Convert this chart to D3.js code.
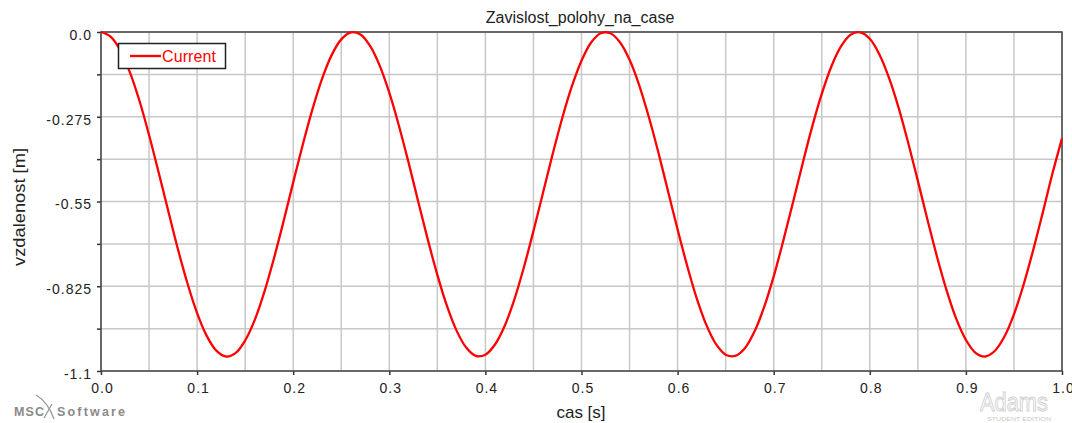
<!DOCTYPE html>
<html>
<head>
<meta charset="utf-8">
<title>Zavislost_polohy_na_case</title>
<style type="text/css">
	body { margin: 0px; background-color: #fff; }
	text { font-family: "Liberation Sans", Arial, sans-serif; }
</style>
<script src="https://cdn.jsdelivr.net/npm/d3@7/dist/d3.min.js"></script>
</head>
<body>
<script type="text/javascript">
// values, one sample every 0.01 s
var times = d3.range(0, 101).map(function(i) { return i / 100; });
var position = [
	0.000, -0.015, -0.059, -0.130, -0.223, -0.334, -0.456, -0.581, -0.704, -0.816,
	-0.912, -0.986, -1.034, -1.053, -1.042, -1.001, -0.934, -0.843, -0.734, -0.614,
	-0.488, -0.365, -0.251, -0.152, -0.075, -0.024, -0.001, -0.008, -0.045, -0.109,
	-0.197, -0.304, -0.423, -0.549, -0.673, -0.788, -0.889, -0.969, -1.024, -1.051,
	-1.047, -1.014, -0.954, -0.869, -0.764, -0.646, -0.521, -0.396, -0.279, -0.176,
	-0.093, -0.034, -0.004, -0.004, -0.033, -0.090, -0.172, -0.275, -0.391, -0.516,
	-0.641, -0.759, -0.865, -0.951, -1.013, -1.047, -1.051, -1.026, -0.972, -0.893,
	-0.793, -0.677, -0.554, -0.428, -0.308, -0.201, -0.112, -0.047, -0.009, -0.001,
	-0.022, -0.073, -0.149, -0.246, -0.360, -0.483, -0.609, -0.730, -0.839, -0.931,
	-0.999, -1.041, -1.053, -1.035, -0.989, -0.916, -0.820, -0.708, -0.586, -0.460,
	-0.345
];
var xTicks = [0.0, 0.1, 0.2, 0.3, 0.4, 0.5, 0.6, 0.7, 0.8, 0.9, 1.0];
var xGrid = d3.range(0, 21).map(function(i) { return i * 0.05; });
var yGrid = d3.range(0, 9).map(function(i) { return -i * 0.1375; });
var yTickLabels = ["0.0", "-0.275", "-0.55", "-0.825", "-1.1"];
var xTickLabels = ["0.0", "0.1", "0.2", "0.3", "0.4", "0.5", "0.6", "0.7", "0.8", "0.9", "1.0"];

var width = 1072, height = 423;
var plotLeft = 101, plotRight = 1062, plotTop = 32, plotBottom = 371;

var svg = d3.select("body").append("svg")
	.attr("width", width)
	.attr("height", height);

var x = d3.scaleLinear().domain([0, 1]).range([plotLeft, plotRight]);
var y = d3.scaleLinear().domain([-1.1, 0]).range([plotBottom, plotTop]);

// grid
svg.append("g").selectAll("line")
	.data(xGrid)
	.enter().append("line")
	.attr("x1", function(d) { return x(d); })
	.attr("x2", function(d) { return x(d); })
	.attr("y1", plotTop).attr("y2", plotBottom)
	.style("stroke", "#c8c8c8").style("stroke-width", 1.5);
svg.append("g").selectAll("line")
	.data(yGrid)
	.enter().append("line")
	.attr("y1", function(d) { return y(d); })
	.attr("y2", function(d) { return y(d); })
	.attr("x1", plotLeft).attr("x2", plotRight)
	.style("stroke", "#c8c8c8").style("stroke-width", 1.5);

// axes
var xAxis = svg.append("g")
	.attr("transform", "translate(0," + plotBottom + ")")
	.call(d3.axisBottom(x).tickValues(xTicks).tickSize(4).tickPadding(8)
		.tickFormat(function(d, i) { return xTickLabels[i]; }));
var yAxis = svg.append("g")
	.attr("transform", "translate(" + plotLeft + ",0)")
	.call(d3.axisLeft(y).tickValues(yGrid).tickSize(4).tickPadding(6)
		.tickFormat(function(d, i) { return i % 2 === 0 ? yTickLabels[i / 2] : ""; }));
[xAxis, yAxis].forEach(function(a) {
	a.select(".domain").remove();
	a.selectAll("line").style("stroke", "#333").style("stroke-width", 1.5);
	a.selectAll("text")
		.style("font-family", "'Liberation Sans', Arial, sans-serif")
		.style("font-size", "14px")
		.style("letter-spacing", "1px")
		.style("fill", "#222");
});
xAxis.selectAll("text").attr("x", 1);
yAxis.selectAll("text").attr("dy", "0.52em").attr("x", -9);

// frame
svg.append("rect")
	.attr("x", plotLeft).attr("y", plotTop)
	.attr("width", plotRight - plotLeft).attr("height", plotBottom - plotTop)
	.style("fill", "none").style("stroke", "#444").style("stroke-width", 1.5);

// curve
var line = d3.line()
	.x(function(d, i) { return x(times[i]); })
	.y(function(d) { return y(d); })
	.curve(d3.curveCatmullRom);
svg.append("path")
	.datum(position)
	.attr("d", line)
	.style("fill", "none")
	.style("stroke", "#ff0000")
	.style("stroke-width", 2.3);

// legend
svg.append("rect")
	.attr("x", 118.5).attr("y", 43.5).attr("width", 107).attr("height", 25)
	.style("fill", "#fff").style("stroke", "#222").style("stroke-width", 1.5);
svg.append("line")
	.attr("x1", 130).attr("x2", 161).attr("y1", 56).attr("y2", 56)
	.style("stroke", "#ff0000").style("stroke-width", 2.3);
svg.append("text")
	.attr("x", 162).attr("y", 62)
	.attr("textLength", 54)
	.style("font-size", "16px").style("fill", "#ff0000")
	.text("Current");

// titles
svg.append("text")
	.attr("x", 580).attr("y", 23)
	.attr("text-anchor", "middle")
	.style("font-size", "16px").style("fill", "#222")
	.text("Zavislost_polohy_na_case");
svg.append("text")
	.attr("x", 581).attr("y", 418)
	.attr("text-anchor", "middle")
	.style("font-size", "17px").style("fill", "#222")
	.text("cas [s]");
svg.append("text")
	.attr("transform", "translate(25,207) rotate(-90)")
	.attr("text-anchor", "middle")
	.attr("textLength", 118)
	.attr("lengthAdjust", "spacingAndGlyphs")
	.style("font-size", "17px").style("fill", "#222")
	.text("vzdalenost [m]");

// watermarks
svg.append("text")
	.attr("x", 14).attr("y", 416)
	.attr("textLength", 30)
	.style("font-size", "12.5px").style("font-weight", "bold").style("fill", "#8a8a8a")
	.text("MSC");
svg.append("path")
	.attr("d", "M36,395 Q48,402 54,419 M52,404 L44,418")
	.style("fill", "none").style("stroke", "#999").style("stroke-width", 1.3);
svg.append("text")
	.attr("x", 57).attr("y", 416)
	.attr("textLength", 68)
	.style("font-size", "12.5px").style("font-weight", "bold").style("fill", "#8a8a8a")
	.text("Software");
svg.append("text")
	.attr("x", 980).attr("y", 411)
	.attr("textLength", 68)
	.attr("lengthAdjust", "spacingAndGlyphs")
	.style("font-size", "26px").style("fill", "none")
	.style("stroke", "#d0d0d0").style("stroke-width", 1)
	.text("Adams");
svg.append("text")
	.attr("x", 987).attr("y", 421)
	.attr("textLength", 64)
	.attr("lengthAdjust", "spacingAndGlyphs")
	.style("font-size", "6px").style("fill", "#c8c8c8")
	.text("STUDENT EDITION");
</script>
</body>
</html>
